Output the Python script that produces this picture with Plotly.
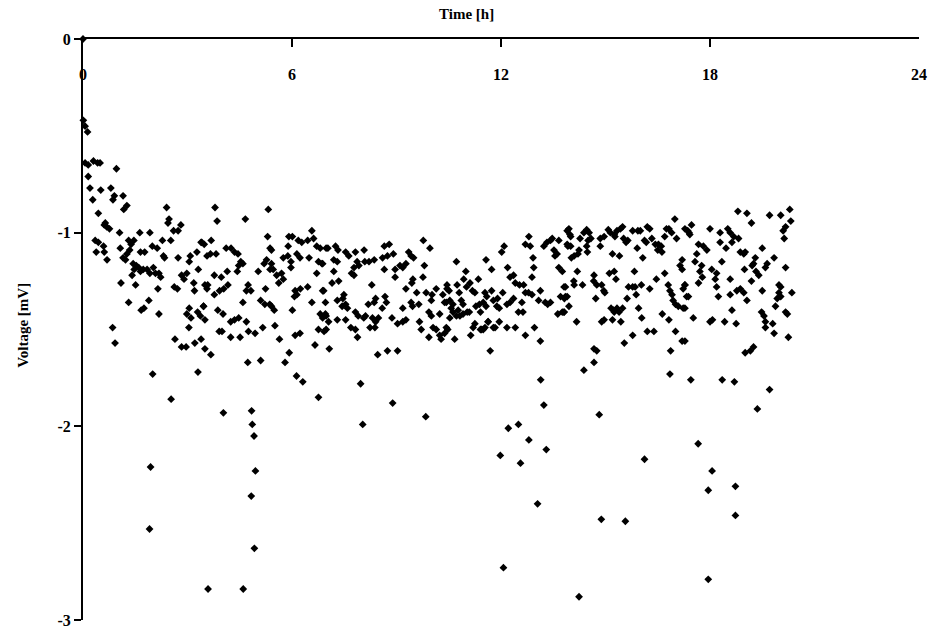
import plotly.graph_objects as go

# ---- data: (time [h], voltage [mV]) ----
pts_early = [
    (0.0, 0.0),
    (0.01, -0.42), (0.06, -0.45), (0.13, -0.48),
    (0.06, -0.64), (0.15, -0.65), (0.30, -0.63), (0.42, -0.64), (0.49, -0.64),
    (0.96, -0.67), (0.15, -0.71),
    (0.20, -0.77), (0.51, -0.78), (0.80, -0.77),
    (0.28, -0.83), (0.86, -0.83), (0.90, -0.81), (1.15, -0.81),
    (1.17, -0.88), (1.26, -0.86), (0.44, -0.90),
    (0.64, -0.95), (0.68, -0.97), (0.76, -0.98), (0.61, -0.96), (1.05, -1.00),
    (2.40, -0.87), (2.47, -0.93), (2.44, -0.95),
    (2.81, -0.96), (2.73, -0.99), (2.60, -0.99), (2.52, -1.04),
    (0.35, -1.04), (0.44, -1.05), (0.38, -1.10), (0.59, -1.07), (0.61, -1.10), (0.69, -1.14),
    (1.07, -1.08), (1.31, -1.04), (1.38, -1.06), (1.46, -1.04), (1.63, -1.00), (1.92, -1.00),
    (1.34, -1.09), (1.26, -1.11), (1.15, -1.13), (1.22, -1.14),
    (1.65, -1.10), (1.77, -1.10), (1.99, -1.07), (2.13, -1.08),
    (2.28, -1.04), (2.31, -1.12), (2.34, -1.13),
    (1.44, -1.16), (1.53, -1.17), (1.47, -1.19), (1.60, -1.18), (1.65, -1.20), (1.73, -1.19),
    (1.84, -1.19), (1.92, -1.21), (2.02, -1.18), (2.08, -1.21), (2.18, -1.21), (2.23, -1.23),
    (1.41, -1.22), (1.09, -1.26), (1.51, -1.27), (2.15, -1.29),
    (2.73, -1.13), (3.08, -1.12), (3.27, -1.10), (3.41, -1.05), (3.05, -1.15), (3.31, -1.19),
    (2.62, -1.28), (2.71, -1.29), (2.83, -1.22), (2.90, -1.24), (2.98, -1.21),
    (3.18, -1.26), (3.20, -1.30), (3.50, -1.27),
    (1.31, -1.36), (1.67, -1.40), (1.75, -1.39), (1.89, -1.35), (2.18, -1.42),
    (3.05, -1.39), (2.98, -1.42), (3.29, -1.41), (3.37, -1.43), (3.46, -1.38), (3.10, -1.44),
    (3.04, -1.49), (3.39, -1.55), (3.21, -1.57), (2.96, -1.59), (2.83, -1.59), (2.64, -1.55),
    (0.85, -1.49), (0.92, -1.57),
]

pts_4_7 = [
    (3.79, -0.87), (3.85, -0.94), (4.66, -0.93),
    (3.39, -1.05), (3.48, -1.06), (3.68, -1.04),
    (3.56, -1.12), (3.66, -1.11), (3.82, -1.11),
    (4.11, -1.08), (4.25, -1.08), (4.35, -1.10), (4.45, -1.11),
    (4.53, -1.15), (4.47, -1.17), (4.43, -1.20), (4.59, -1.16),
    (4.14, -1.20), (3.97, -1.23), (3.77, -1.22),
    (3.58, -1.27), (3.56, -1.29), (3.77, -1.32), (3.92, -1.30), (4.04, -1.29), (4.16, -1.27),
    (4.74, -1.27), (4.82, -1.30), (4.69, -1.30),
    (3.46, -1.38), (3.87, -1.40), (4.02, -1.42), (4.59, -1.36), (3.50, -1.45),
    (4.24, -1.46), (4.35, -1.45), (4.47, -1.44), (4.69, -1.46),
    (3.91, -1.51), (3.99, -1.51), (4.24, -1.54), (4.51, -1.54), (4.75, -1.51), (4.94, -1.52),
    (3.50, -1.60), (3.67, -1.63),
    (5.32, -0.88), (5.30, -1.02), (5.37, -1.08), (5.41, -1.09),
    (5.27, -1.14), (5.20, -1.16), (5.41, -1.16), (5.37, -1.19), (5.03, -1.20), (5.46, -1.19),
    (5.56, -1.22), (5.70, -1.21), (5.62, -1.26), (5.75, -1.13), (5.88, -1.12), (5.97, -1.15),
    (5.91, -1.02), (6.01, -1.02), (5.89, -1.07), (6.14, -1.11), (6.23, -1.13),
    (6.18, -1.04), (6.28, -1.05), (6.45, -1.04), (6.57, -0.99), (6.62, -1.03), (6.71, -1.07),
    (6.81, -1.08), (6.76, -1.15), (6.88, -1.16), (6.98, -1.08),
    (6.49, -1.13), (6.71, -1.21),
    (5.75, -1.24), (5.97, -1.18), (5.24, -1.29),
    (6.09, -1.30), (6.14, -1.32), (6.24, -1.29), (6.07, -1.33), (6.45, -1.28),
    (5.10, -1.35), (5.22, -1.37), (5.36, -1.37), (5.49, -1.40), (5.41, -1.38),
    (5.51, -1.48), (5.64, -1.55), (6.01, -1.40), (6.57, -1.36), (6.88, -1.30), (6.88, -1.44),
    (5.92, -1.62), (6.09, -1.53), (6.23, -1.52), (6.66, -1.58),
    (6.98, -1.43), (6.81, -1.42), (6.76, -1.50), (6.92, -1.51), (5.16, -1.49),
]

pts_7_10 = [
    (9.77, -1.04), (9.96, -1.08),
    (8.79, -1.06), (8.65, -1.07), (8.91, -1.11), (8.60, -1.13), (8.74, -1.12),
    (9.35, -1.10), (9.42, -1.12), (9.49, -1.13), (9.27, -1.16), (9.18, -1.18), (9.10, -1.17),
    (8.96, -1.19), (9.80, -1.17),
    (7.03, -1.08), (7.25, -1.07), (7.32, -1.09), (7.54, -1.10), (7.63, -1.12), (7.82, -1.10), (8.07, -1.09),
    (7.20, -1.14), (7.30, -1.15),
    (7.87, -1.15), (8.09, -1.15), (8.21, -1.15), (8.36, -1.14), (7.78, -1.18), (7.92, -1.17),
    (7.71, -1.21), (7.78, -1.22),
    (6.86, -1.16), (7.20, -1.20), (7.15, -1.26), (7.34, -1.25), (8.29, -1.27), (8.65, -1.19),
    (8.96, -1.23), (9.47, -1.24), (9.76, -1.23), (9.44, -1.26),
    (6.91, -1.30), (6.96, -1.36), (7.30, -1.35), (7.49, -1.32), (7.46, -1.34), (7.54, -1.37),
    (7.59, -1.39), (7.44, -1.38),
    (8.19, -1.37), (8.36, -1.36), (8.40, -1.34), (8.67, -1.33), (8.71, -1.36), (8.59, -1.39),
    (9.27, -1.29), (9.42, -1.36), (9.58, -1.31), (9.18, -1.39), (9.46, -1.38), (9.64, -1.37),
    (9.85, -1.31), (10.02, -1.32), (10.14, -1.29), (10.00, -1.35), (10.33, -1.32), (10.45, -1.29),
    (10.38, -1.36),
    (6.96, -1.42), (7.05, -1.46), (7.30, -1.45), (7.54, -1.45), (7.82, -1.41), (7.90, -1.43),
    (8.06, -1.44), (8.11, -1.43), (8.31, -1.44), (8.40, -1.46), (8.48, -1.44), (8.24, -1.49),
    (8.38, -1.49),
    (7.69, -1.49), (7.82, -1.50), (7.88, -1.54), (6.98, -1.50),
    (8.87, -1.44), (9.03, -1.47), (9.18, -1.46), (9.27, -1.45), (9.66, -1.46), (9.71, -1.50),
    (9.93, -1.41), (10.00, -1.43), (10.24, -1.42), (10.05, -1.49), (10.14, -1.50), (10.24, -1.53),
    (10.28, -1.55), (9.93, -1.54), (10.47, -1.50),
    (7.07, -1.60), (8.46, -1.63), (8.74, -1.61), (9.03, -1.61),
]

pts_10_14 = [
    (13.90, -0.99), (14.00, -1.02), (13.92, -1.07),
    (12.80, -1.02), (12.70, -1.06), (12.84, -1.07),
    (13.23, -1.07), (13.32, -1.05), (13.42, -1.04), (13.47, -1.03), (13.66, -1.04), (13.52, -1.09),
    (13.61, -1.11), (13.55, -1.12), (13.66, -1.18), (13.76, -1.20),
    (12.09, -1.07), (12.02, -1.10),
    (11.57, -1.14), (11.73, -1.19), (12.19, -1.18), (12.92, -1.13), (12.94, -1.18), (12.89, -1.23),
    (12.70, -1.31),
    (10.72, -1.15), (10.99, -1.20), (10.93, -1.24), (11.11, -1.26), (11.01, -1.28), (11.35, -1.24),
    (10.45, -1.27), (10.51, -1.30), (10.74, -1.27), (10.80, -1.31), (10.53, -1.35), (10.62, -1.37),
    (10.43, -1.36), (10.57, -1.39), (10.62, -1.41),
    (10.86, -1.35), (10.91, -1.37), (10.77, -1.40), (11.03, -1.41), (10.82, -1.43), (10.72, -1.43),
    (10.53, -1.44),
    (11.18, -1.30), (11.25, -1.31), (11.28, -1.38), (11.38, -1.37), (11.49, -1.36), (11.54, -1.31),
    (11.59, -1.33), (11.57, -1.38),
    (11.73, -1.30), (11.78, -1.35), (11.90, -1.34), (11.88, -1.38), (11.95, -1.39), (12.05, -1.31),
    (11.41, -1.41), (11.63, -1.46), (11.78, -1.49), (11.95, -1.46), (11.54, -1.49), (11.44, -1.50),
    (11.25, -1.47),
    (12.17, -1.37), (12.26, -1.36), (12.36, -1.34), (12.26, -1.23), (12.36, -1.22), (12.41, -1.26),
    (12.53, -1.27), (12.65, -1.27), (12.79, -1.31), (12.89, -1.32),
    (12.60, -1.36), (12.63, -1.41), (12.50, -1.41),
    (13.13, -1.30), (13.08, -1.35), (13.27, -1.36), (13.34, -1.37), (13.42, -1.36),
    (13.81, -1.28), (13.71, -1.33), (13.82, -1.34), (13.90, -1.33), (13.63, -1.42), (13.76, -1.41),
    (13.81, -1.41),
    (10.43, -1.49), (10.38, -1.52), (10.67, -1.55), (10.91, -1.42), (11.09, -1.41),
    (11.20, -1.49), (11.41, -1.50), (11.49, -1.50), (11.63, -1.46), (11.83, -1.49), (12.17, -1.49),
    (12.41, -1.49), (12.96, -1.49), (12.70, -1.53), (13.13, -1.56), (11.13, -1.53),
    (11.69, -1.61),
]

pts_14_17 = [
    (13.95, -0.98), (13.98, -1.01), (13.90, -1.06), (14.00, -1.07), (14.27, -1.03), (14.24, -1.09),
    (14.38, -1.00), (14.46, -0.985), (14.53, -1.00), (14.50, -1.04), (14.58, -1.03), (14.46, -1.07),
    (14.48, -1.10), (14.21, -1.11), (14.10, -1.12), (14.02, -1.13),
    (14.85, -1.03), (14.85, -1.07), (14.96, -1.02), (15.08, -0.985), (15.14, -1.00), (15.25, -1.01),
    (15.33, -0.99), (15.43, -0.98), (15.49, -0.97), (15.27, -1.02), (15.52, -1.03), (15.59, -1.05),
    (15.64, -1.04),
    (15.78, -0.99), (15.93, -0.99), (16.00, -0.99), (16.20, -0.97), (16.27, -0.98), (15.91, -1.08),
    (16.12, -1.04), (16.17, -1.05), (16.33, -1.03), (16.43, -1.06), (16.52, -1.06), (16.60, -1.07),
    (16.62, -1.10), (16.50, -1.09),
    (16.70, -1.02), (16.75, -0.98), (16.82, -0.98), (16.90, -1.00), (16.99, -0.93), (17.04, -1.03),
    (17.28, -0.98), (17.40, -1.00),
    (15.20, -1.11), (15.40, -1.12), (16.07, -1.13),
    (17.20, -1.14), (17.14, -1.17), (17.20, -1.19),
    (14.19, -1.20), (14.09, -1.25), (14.10, -1.27), (13.85, -1.28), (14.34, -1.27),
    (14.67, -1.22), (14.66, -1.25), (14.75, -1.27), (14.89, -1.27), (14.95, -1.30), (14.98, -1.31),
    (15.11, -1.21), (15.25, -1.20), (15.30, -1.24), (15.83, -1.20),
    (15.66, -1.28), (15.78, -1.28), (15.85, -1.28), (16.03, -1.27), (15.88, -1.32), (15.62, -1.34),
    (16.27, -1.29), (16.46, -1.24), (16.70, -1.21),
    (16.80, -1.27), (16.85, -1.30), (16.91, -1.32), (16.94, -1.35), (17.28, -1.27), (17.23, -1.29),
    (17.33, -1.33),
    (13.85, -1.33), (13.95, -1.38), (13.81, -1.41),
    (14.72, -1.34), (14.17, -1.46),
    (15.16, -1.39), (15.23, -1.40), (15.33, -1.39), (15.49, -1.39), (15.25, -1.41), (15.39, -1.41),
    (14.96, -1.45), (14.89, -1.46), (15.20, -1.45), (15.44, -1.46),
    (15.95, -1.39), (16.04, -1.44), (16.63, -1.42), (16.82, -1.45), (17.01, -1.37), (17.09, -1.38),
    (17.23, -1.39),
    (16.20, -1.51), (16.39, -1.51), (17.01, -1.51), (17.20, -1.56), (15.78, -1.53), (15.54, -1.57),
    (14.67, -1.60), (14.75, -1.61), (16.87, -1.61),
]

pts_17_21 = [
    (18.80, -0.89), (19.06, -0.90), (19.19, -0.95), (19.71, -0.91), (20.03, -0.91), (20.29, -0.88),
    (20.32, -0.94), (20.17, -0.97), (20.10, -0.99), (20.13, -1.03),
    (17.47, -0.96), (17.36, -0.99), (17.42, -1.01), (18.00, -0.98), (18.29, -1.00), (18.51, -0.98),
    (18.58, -1.00), (18.68, -1.02), (18.82, -1.03), (18.63, -1.05), (18.29, -1.05),
    (17.67, -1.06), (17.81, -1.07), (17.91, -1.09), (18.46, -1.08), (18.87, -1.10), (18.97, -1.11),
    (19.01, -1.10), (19.50, -1.08),
    (17.62, -1.11), (17.57, -1.15), (17.76, -1.17), (18.34, -1.15), (19.30, -1.13), (19.25, -1.16),
    (19.21, -1.17), (19.64, -1.16), (19.59, -1.18), (19.84, -1.13), (20.17, -1.18),
    (17.71, -1.20), (17.78, -1.23), (17.67, -1.26), (18.05, -1.19), (18.19, -1.21), (18.15, -1.24),
    (18.99, -1.19), (19.32, -1.20), (19.40, -1.22), (19.19, -1.25), (18.58, -1.24),
    (17.28, -1.27), (17.38, -1.33), (17.52, -1.44), (18.19, -1.28), (18.24, -1.33), (18.58, -1.32),
    (18.77, -1.30), (18.87, -1.29), (18.97, -1.31), (19.06, -1.35), (19.50, -1.30),
    (19.98, -1.27), (20.03, -1.28), (19.98, -1.31), (19.93, -1.34), (20.03, -1.33), (19.88, -1.38),
    (20.35, -1.31), (20.17, -1.41), (20.22, -1.42),
    (18.63, -1.40), (17.28, -1.39), (18.00, -1.46), (18.07, -1.45), (18.42, -1.46), (18.75, -1.47),
    (19.48, -1.41), (19.55, -1.43), (19.59, -1.46), (19.59, -1.49), (19.80, -1.47), (19.84, -1.52),
    (20.25, -1.54),
    (19.01, -1.62), (19.16, -1.61), (19.25, -1.59),
    (17.28, -1.56),
]

pts_outliers = [
    (2.00, -1.73), (1.94, -2.21), (1.91, -2.53), (2.53, -1.86), (3.30, -1.72),
    (4.03, -1.93), (3.59, -2.84), (4.60, -2.84),
    (4.84, -1.92), (4.86, -1.99), (4.91, -2.05), (4.95, -2.23), (4.83, -2.36), (4.92, -2.63),
    (5.10, -1.66), (4.73, -1.67), (5.80, -1.67),
    (6.13, -1.74), (6.31, -1.77), (6.76, -1.85), (8.03, -1.99), (7.97, -1.78),
    (8.89, -1.88), (9.84, -1.95),
    (11.98, -2.15), (12.07, -2.73), (12.21, -2.01), (12.50, -1.99), (12.56, -2.19), (12.80, -2.07),
    (13.05, -2.40), (13.14, -1.76), (13.23, -1.89), (13.30, -2.12),
    (14.24, -2.88), (14.38, -1.71), (14.67, -1.67), (14.82, -1.94), (14.88, -2.48),
    (15.57, -2.49), (16.12, -2.17), (16.85, -1.73),
    (17.45, -1.76), (17.66, -2.09), (17.95, -2.79), (17.95, -2.33), (18.06, -2.23),
    (18.35, -1.76), (18.70, -1.77), (18.73, -2.31), (18.73, -2.46),
    (19.36, -1.91), (19.71, -1.81),
]

all_pts = pts_early + pts_4_7 + pts_7_10 + pts_10_14 + pts_14_17 + pts_17_21 + pts_outliers
time_h = [p[0] for p in all_pts]
voltage_mv = [p[1] for p in all_pts]

x_ticks = [0, 6, 12, 18, 24]
x_tick_labels = ["0", "6", "12", "18", "24"]
y_ticks = [0, -1, -2, -3]
y_tick_labels = ["0", "-1", "-2", "-3"]

FONT = "Liberation Serif"

fig = go.Figure()
fig.add_trace(go.Scatter(
    x=time_h, y=voltage_mv, mode="markers",
    marker=dict(symbol="diamond", size=6, color="black", line=dict(width=0)),
    cliponaxis=False, showlegend=False,
))

annotations = []
for tv, tl in zip(x_ticks, x_tick_labels):
    annotations.append(dict(
        x=tv, y=1, xref="x", yref="paper", text="<b>%s</b>" % tl, showarrow=False,
        yshift=-35, xanchor="center", yanchor="middle",
        font=dict(family=FONT, size=16, color="black"),
    ))
annotations.append(dict(
    x=0.459, y=1, xref="paper", yref="paper", text="<b>Time [h]</b>", showarrow=False,
    yshift=25, xanchor="center", yanchor="middle",
    font=dict(family=FONT, size=15, color="black"),
))
annotations.append(dict(
    x=-0.072, y=0.508, xref="paper", yref="paper", text="<b>Voltage [mV]</b>", showarrow=False,
    textangle=-90, xanchor="center", yanchor="middle",
    font=dict(family=FONT, size=15, color="black"),
))

fig.update_layout(
    width=931, height=639,
    margin=dict(l=83, r=12, t=39, b=10),
    paper_bgcolor="white", plot_bgcolor="white",
    xaxis=dict(
        range=[0, 24], side="top", tickvals=x_ticks, ticks="inside", ticklen=8,
        tickwidth=1.5, tickcolor="black", showticklabels=False,
        showline=True, linecolor="black", linewidth=2, showgrid=False, zeroline=False,
        anchor="y",
    ),
    yaxis=dict(
        range=[-3, 0], tickvals=y_ticks, ticktext=["<b>%s</b>" % t for t in y_tick_labels],
        ticks="outside", ticklen=7, tickwidth=1.5, tickcolor="black",
        tickfont=dict(family=FONT, size=16, color="black"),
        showline=True, linecolor="black", linewidth=2, showgrid=False, zeroline=False,
    ),
    annotations=annotations,
)

fig.write_html("out.html")
